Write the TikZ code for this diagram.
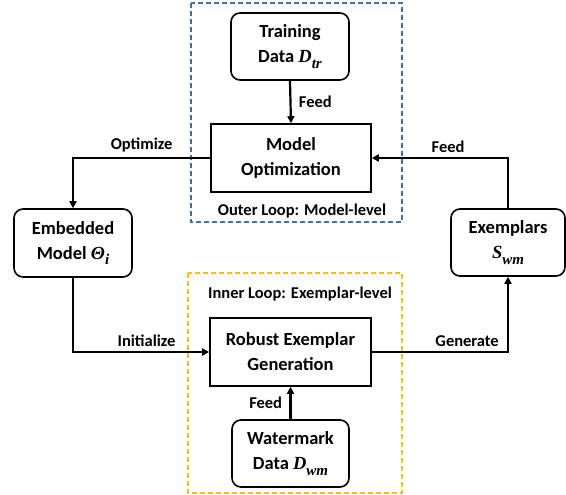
\documentclass[tikz,border=0pt]{standalone}
\usepackage{amsmath}
\usepackage{fontspec}
\setmainfont{Carlito}
\newfontfamily\mathserif{Liberation Serif}
\newcommand{\mvar}[2]{{\mathserif\bfseries\itshape #1\raisebox{-0.28em}{\fontsize{15}{15}\selectfont #2}}}
\usetikzlibrary{arrows.meta}
\definecolor{outerblue}{RGB}{68,114,160}
\definecolor{inneryellow}{RGB}{255,192,0}
\begin{document}
\begin{tikzpicture}[x=1pt,y=-1pt,
  rbox/.style={draw,line width=1.6pt,rounded corners=9pt,align=center,font=\fontsize{18.5}{25}\selectfont\bfseries,inner sep=0pt},
  sbox/.style={draw,line width=1.6pt,align=center,font=\fontsize{18.5}{25}\selectfont\bfseries,inner sep=0pt},
  conn/.style={line width=2.2pt,-{Triangle[length=7pt,width=7pt]}},
  lbl/.style={font=\fontsize{16.5}{18}\selectfont\bfseries},
  loopbox/.style={line width=1.3pt,dash pattern=on 5pt off 3pt}]
\useasboundingbox (0,0) rectangle (566,495);
% loop frames
\draw[loopbox,outerblue] (191,3) rectangle (402,222);
\draw[loopbox,inneryellow] (188,273) rectangle (402,493);
% nodes
\node[rbox,minimum width=118pt,minimum height=67pt] (train) at (290,46.5) {Training\\Data \mvar{D}{tr}};
\node[sbox,minimum width=160pt,minimum height=68pt] (opt) at (291,158) {Model\\Optimization};
\node[rbox,minimum width=118pt,minimum height=68pt] (emb) at (73,243) {Embedded\\Model \mvar{Θ}{i}};
\node[rbox,minimum width=114pt,minimum height=67pt] (exm) at (508,242.5) {Exemplars\\\mvar{S}{wm}};
\node[sbox,minimum width=161pt,minimum height=68pt] (rob) at (290.5,352) {Robust Exemplar\\Generation};
\node[rbox,minimum width=117pt,minimum height=67pt] (wm) at (290.5,453.5) {Watermark\\Data \mvar{D}{wm}};
\node[lbl] (outerlbl) at (302,211) {Outer Loop: Model-level};
\node[lbl] (innerlbl) at (300,294) {Inner Loop: Exemplar-level};
% connectors
\draw[conn] (train.south) -- node[lbl,right=4pt] {Feed} (opt.north);
\draw[conn] (opt.west) -- node[lbl,above=1pt,pos=0.5] {Optimize} (emb.north |- opt.west) -- (emb.north);
\draw[conn] (emb.south) |- node[lbl,above=1pt,pos=0.77] {Initialize} (rob.west);
\draw[conn] (exm.north) |- node[lbl,above=1pt,pos=0.72] {Feed} (opt.east);
\draw[conn] (rob.east) -| node[lbl,above=1pt,pos=0.35] {Generate} (exm.south);
\draw[conn] (wm.north) -- node[lbl,left=4pt] {Feed} (rob.south);
\end{tikzpicture}
\end{document}
